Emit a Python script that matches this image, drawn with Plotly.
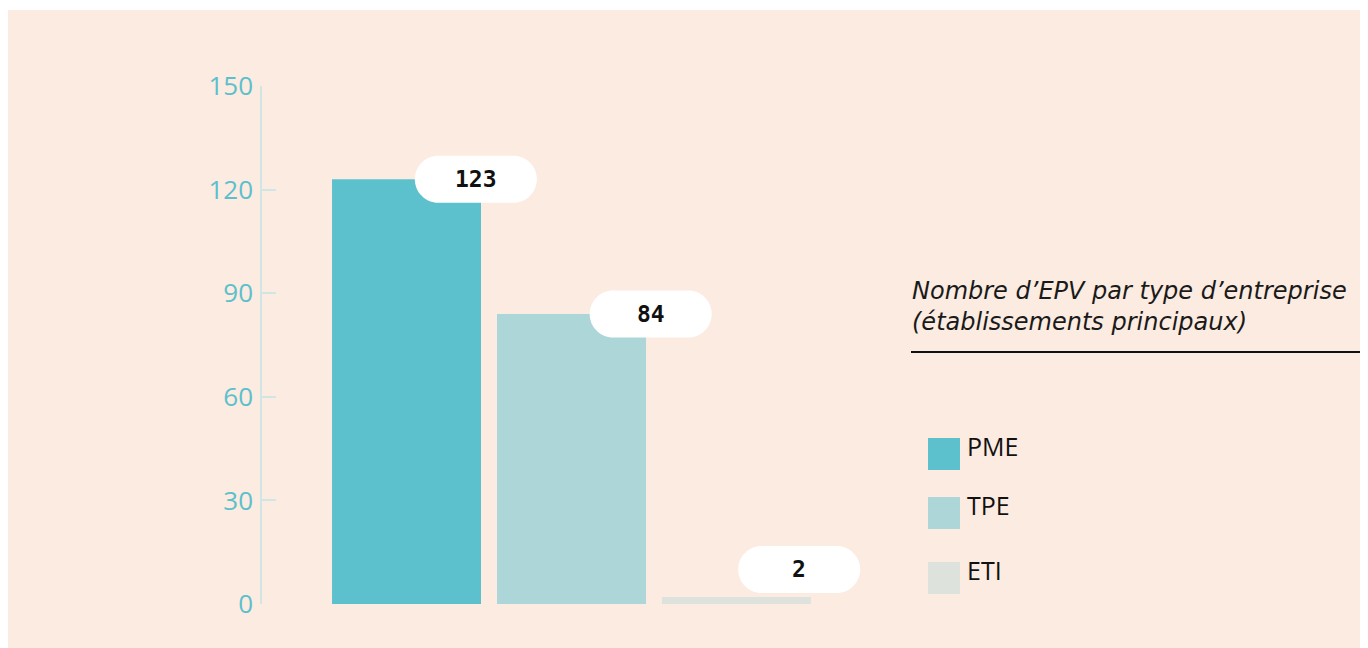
import plotly.graph_objects as go

# ---- data ----
categories = ["PME", "TPE", "ETI"]
values = [123, 84, 2]
bar_colors = ["#5CC1CD", "#ACD6D8", "#DDE3DC"]
y_ticks = [0, 30, 60, 90, 120, 150]
title_lines = ["Nombre d’EPV par type d’entreprise", "(établissements principaux)"]

# ---- layout geometry (pixels, page coords; page offset 8 from body margin) ----
OFF = 8
W, H = 1360, 640
L = 262 - OFF
T = 86 - OFF
B = H - (604 - OFF)
R = W - (880 - OFF)
PW, PH = W - L - R, H - T - B
label_dx = [0.42, 0.48, 0.38]
label_min_y = 10

def px(xp):
    return (xp - OFF - L) / PW

def py(yp):
    return (H - B - (yp - OFF)) / PH

x_pos = list(range(len(categories)))

fig = go.Figure()
fig.add_trace(go.Bar(
    x=x_pos, y=values, width=0.903,
    marker=dict(color=bar_colors, line=dict(width=0)),
    hoverinfo="skip", showlegend=False,
))

shapes = []
annotations = []

# peach background panel
shapes.append(dict(type="rect", xref="paper", yref="paper",
                   x0=px(8), x1=px(1368), y0=py(10), y1=py(648),
                   fillcolor="#FCEBE1", line=dict(width=0), layer="below"))

# pill labels
hw, hh = 61, 23.5
s = hw - hh
k = 0.5523 * hh
pill = (f"M {-s},{-hh} L {s},{-hh} C {s+k},{-hh} {hw},{-k} {hw},0 "
        f"C {hw},{k} {s+k},{hh} {s},{hh} L {-s},{hh} "
        f"C {-s-k},{hh} {-hw},{k} {-hw},0 C {-hw},{-k} {-s-k},{-hh} {-s},{-hh} Z")
for i, v in enumerate(values):
    xa = x_pos[i] + label_dx[i]
    ya = max(v, label_min_y)
    shapes.append(dict(type="path", xref="x", yref="y",
                       xsizemode="pixel", ysizemode="pixel",
                       xanchor=xa, yanchor=ya, path=pill,
                       fillcolor="white", line=dict(width=0), layer="above"))
    annotations.append(dict(x=xa, y=ya, xref="x", yref="y", text=f"<b>{v}</b>",
                            showarrow=False, xanchor="center", yanchor="middle",
                            font=dict(family="DejaVu Sans Mono", size=23, color="#111111")))

# title
annotations.append(dict(x=px(910), y=py(275), xref="paper", yref="paper",
                        text="<i>" + "<br>".join(title_lines) + "</i>",
                        showarrow=False, xanchor="left", yanchor="top", align="left",
                        font=dict(family="DejaVu Sans", size=24, color="#1a1a1a")))
shapes.append(dict(type="line", xref="paper", yref="paper",
                   x0=px(911), x1=px(1365), y0=py(352), y1=py(352),
                   line=dict(color="#111111", width=2.2)))

# legend
leg_top = [438, 497, 562]
for i, c in enumerate(categories):
    shapes.append(dict(type="rect", xref="paper", yref="paper",
                       x0=px(928), x1=px(960), y0=py(leg_top[i]), y1=py(leg_top[i] + 32),
                       fillcolor=bar_colors[i], line=dict(width=0)))
    annotations.append(dict(x=px(965), y=py(leg_top[i] + 8), xref="paper", yref="paper",
                            text=c, showarrow=False, xanchor="left", yanchor="middle",
                            font=dict(family="Open Sans", size=25, color="#111111")))

fig.update_layout(
    width=W, height=H,
    margin=dict(l=L, r=R, t=T, b=B, pad=0),
    paper_bgcolor="white", plot_bgcolor="rgba(0,0,0,0)",
    shapes=shapes, annotations=annotations,
    showlegend=False,
    xaxis=dict(visible=False, range=[-0.876, 2.870], fixedrange=True),
    yaxis=dict(range=[0, 150], tickvals=y_ticks, showgrid=False, zeroline=False,
               showline=True, linecolor="#CFE6E4", linewidth=1.5,
               ticks="inside", ticklen=14, tickcolor="#CFE6E4", tickwidth=1.5,
               ticklabelstandoff=2,
               tickfont=dict(family="Open Sans", size=26, color="#5BC0CC"),
               fixedrange=True),
)

fig.write_html("out.html")
